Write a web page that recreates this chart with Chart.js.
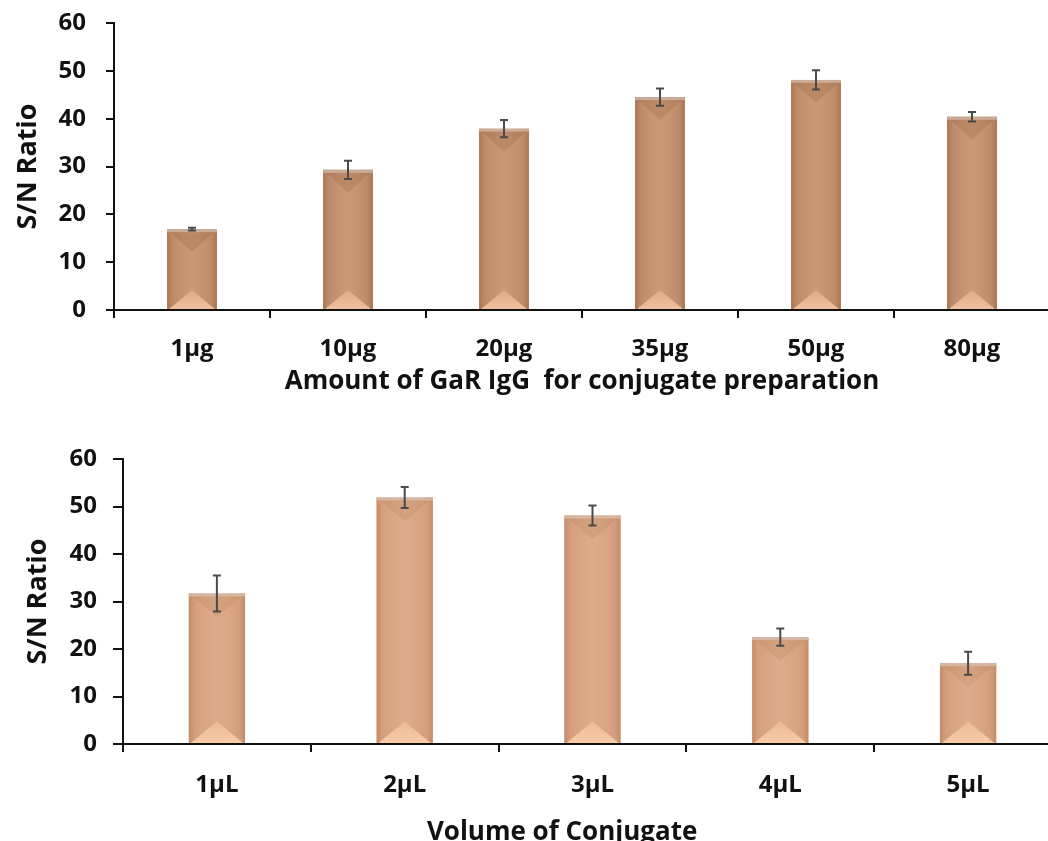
<!DOCTYPE html>
<html><head><meta charset="utf-8">
<script src="https://cdn.jsdelivr.net/npm/chart.js@4.4.1/dist/chart.umd.min.js"></script>
<style>
html,body{margin:0;padding:0;background:#fff;overflow:hidden;width:1048px;height:841px;position:relative}
#c1{position:absolute;left:0;top:0}
#c2{position:absolute;left:0;top:440px}
</style></head><body>
<canvas id="c1" width="1050" height="400" style="width:1050px;height:400px"></canvas>
<canvas id="c2" width="1062" height="420" style="width:1062px;height:420px"></canvas>
<script>
// ---- data ----
const amountLabels = ['1μg', '10μg', '20μg', '35μg', '50μg', '80μg'];
const amountValues = [16.9, 29.3, 37.9, 44.5, 48.1, 40.4];
const amountErrors = [0.3, 1.9, 1.8, 1.8, 2.0, 1.0];

const volumeLabels = ['1μL', '2μL', '3μL', '4μL', '5μL'];
const volumeValues = [31.7, 51.9, 48.1, 22.5, 17.0];
const volumeErrors = [3.8, 2.2, 2.1, 1.8, 2.4];

const yMin = 0, yMax = 60, yStep = 10;
const yTitle = 'S/N Ratio';
const amountTitle = 'Amount of GaR IgG  for conjugate preparation';
const volumeTitle = 'Volume of Conjugate';

const FONT = '"Open Sans", "DejaVu Sans", sans-serif';

// ---- plugins ----
const bevelPlugin = {
  id: 'bevel',
  afterDatasetsDraw(chart, args, opts) {
    const ctx = chart.ctx;
    chart.getDatasetMeta(0).data.forEach(el => {
      const {x, y, base, width} = el.getProps(['x', 'y', 'base', 'width'], true);
      const l = x - width / 2, r = x + width / 2;
      const t = Math.min(y, base), b = Math.max(y, base);
      ctx.save();
      const g = ctx.createLinearGradient(l, 0, r, 0);
      g.addColorStop(0, opts.edge);
      g.addColorStop(0.1, opts.edgeSoft);
      g.addColorStop(0.5, 'rgba(255,255,255,0.06)');
      g.addColorStop(0.9, opts.edgeSoft);
      g.addColorStop(1, opts.edge);
      ctx.fillStyle = g;
      ctx.fillRect(l, t, width, b - t);
      const h2 = Math.min(width * opts.topRatio, (b - t) / 2);
      ctx.beginPath();
      ctx.moveTo(l, t); ctx.lineTo(r, t); ctx.lineTo(x, t + h2); ctx.closePath();
      ctx.fillStyle = opts.topTri;
      ctx.fill();
      const h = Math.min(width * opts.bottomRatio, (b - t) / 2);
      const gb = ctx.createLinearGradient(0, b - h, 0, b);
      gb.addColorStop(0, opts.bottomTri1);
      gb.addColorStop(1, opts.bottomTri2);
      ctx.beginPath();
      ctx.moveTo(l + 2, b); ctx.lineTo(r - 2, b); ctx.lineTo(x, b - h); ctx.closePath();
      ctx.fillStyle = gb;
      ctx.fill();
      ctx.fillStyle = opts.strip;
      ctx.fillRect(l, t, width, 3);
      ctx.restore();
    });
  }
};

const errorBarPlugin = {
  id: 'errbars',
  afterDatasetsDraw(chart, args, opts) {
    const ctx = chart.ctx;
    const ys = chart.scales.y;
    const values = chart.data.datasets[0].data;
    chart.getDatasetMeta(0).data.forEach((el, i) => {
      const e = opts.errors[i];
      if (e == null) return;
      const x = el.x;
      const yTop = ys.getPixelForValue(values[i] + e);
      const yBot = ys.getPixelForValue(values[i] - e);
      ctx.save();
      ctx.strokeStyle = opts.color;
      ctx.lineWidth = 2;
      ctx.beginPath();
      ctx.moveTo(x, yTop); ctx.lineTo(x, yBot);
      ctx.moveTo(x - opts.cap, yTop); ctx.lineTo(x + opts.cap, yTop);
      ctx.moveTo(x - opts.cap, yBot); ctx.lineTo(x + opts.cap, yBot);
      ctx.stroke();
      ctx.restore();
    });
  }
};

function makeChart(canvasId, labels, values, errors, xTitleText, cfg) {
  return new Chart(document.getElementById(canvasId), {
    type: 'bar',
    data: {
      labels: labels,
      datasets: [{
        data: values,
        backgroundColor: cfg.barColor,
        borderWidth: 0,
        categoryPercentage: 1,
        barPercentage: cfg.barPct
      }]
    },
    plugins: [bevelPlugin, errorBarPlugin],
    options: {
      responsive: false,
      animation: false,
      events: [],
      layout: { padding: { top: cfg.padTop, right: 0, bottom: 0, left: 0 } },
      plugins: {
        legend: { display: false },
        tooltip: { enabled: false },
        bevel: cfg.bevel,
        errbars: { errors: errors, color: '#4a4a4a', cap: 4 }
      },
      scales: {
        x: {
          grid: { display: true, drawOnChartArea: false, drawTicks: true, tickLength: 8, color: '#111', lineWidth: 2, offset: true },
          border: { display: true, color: '#111', width: 2 },
          ticks: { color: '#111', padding: cfg.xTickPad, font: { family: FONT, size: 24, weight: 'bold' } },
          title: { display: true, text: xTitleText, color: '#111', padding: { top: 0, bottom: cfg.xTitlePad }, font: { family: FONT, size: 26, weight: 'bold' } },
          afterFit(scale) { scale.height = cfg.xHeight; scale.paddingLeft = 0; scale.paddingRight = 0; }
        },
        y: {
          min: yMin, max: yMax,
          grid: { display: true, drawOnChartArea: false, drawTicks: true, tickLength: cfg.yTickLen, color: '#111', lineWidth: 2 },
          border: { display: true, color: '#111', width: 2 },
          ticks: { stepSize: yStep, color: '#111', padding: cfg.yTickPad, font: { family: FONT, size: 24, weight: 'bold' } },
          title: { display: true, text: yTitle, color: '#111', padding: { top: cfg.yTitlePad, bottom: 0 }, font: { family: FONT, size: 27, weight: 'bold' } },
          afterFit(scale) { scale.width = cfg.yWidth; scale.paddingTop = 0; scale.paddingBottom = 0; }
        }
      }
    }
  });
}

makeChart('c1', amountLabels, amountValues, amountErrors, amountTitle, {
  barColor: '#C8926E', barPct: 0.32, padTop: 23,
  xHeight: 90, xTickPad: 17, xTitlePad: 3,
  yWidth: 114, yTickLen: 8, yTickPad: 20, yTitlePad: 12,
  bevel: { edge: 'rgba(110,65,35,0.35)', edgeSoft: 'rgba(110,65,35,0.12)', topRatio: 0.46, bottomRatio: 0.38,
           topTri: 'rgba(120,70,40,0.18)', bottomTri1: '#DDA984', bottomTri2: '#F0C09E', strip: 'rgba(205,175,155,0.9)' }
});

makeChart('c2', volumeLabels, volumeValues, volumeErrors, volumeTitle + '         ', {
  barColor: '#DCA683', barPct: 0.30, padTop: 19,
  xHeight: 116, xTickPad: 19, xTitlePad: 12,
  yWidth: 123, yTickLen: 10, yTickPad: 16, yTitlePad: 22,
  bevel: { edge: 'rgba(140,85,50,0.32)', edgeSoft: 'rgba(140,85,50,0.10)', topRatio: 0.42, bottomRatio: 0.38,
           topTri: 'rgba(150,90,55,0.13)', bottomTri1: '#EDB996', bottomTri2: '#F8CBA9', strip: 'rgba(215,185,165,0.9)' }
});
</script>
</body></html>
